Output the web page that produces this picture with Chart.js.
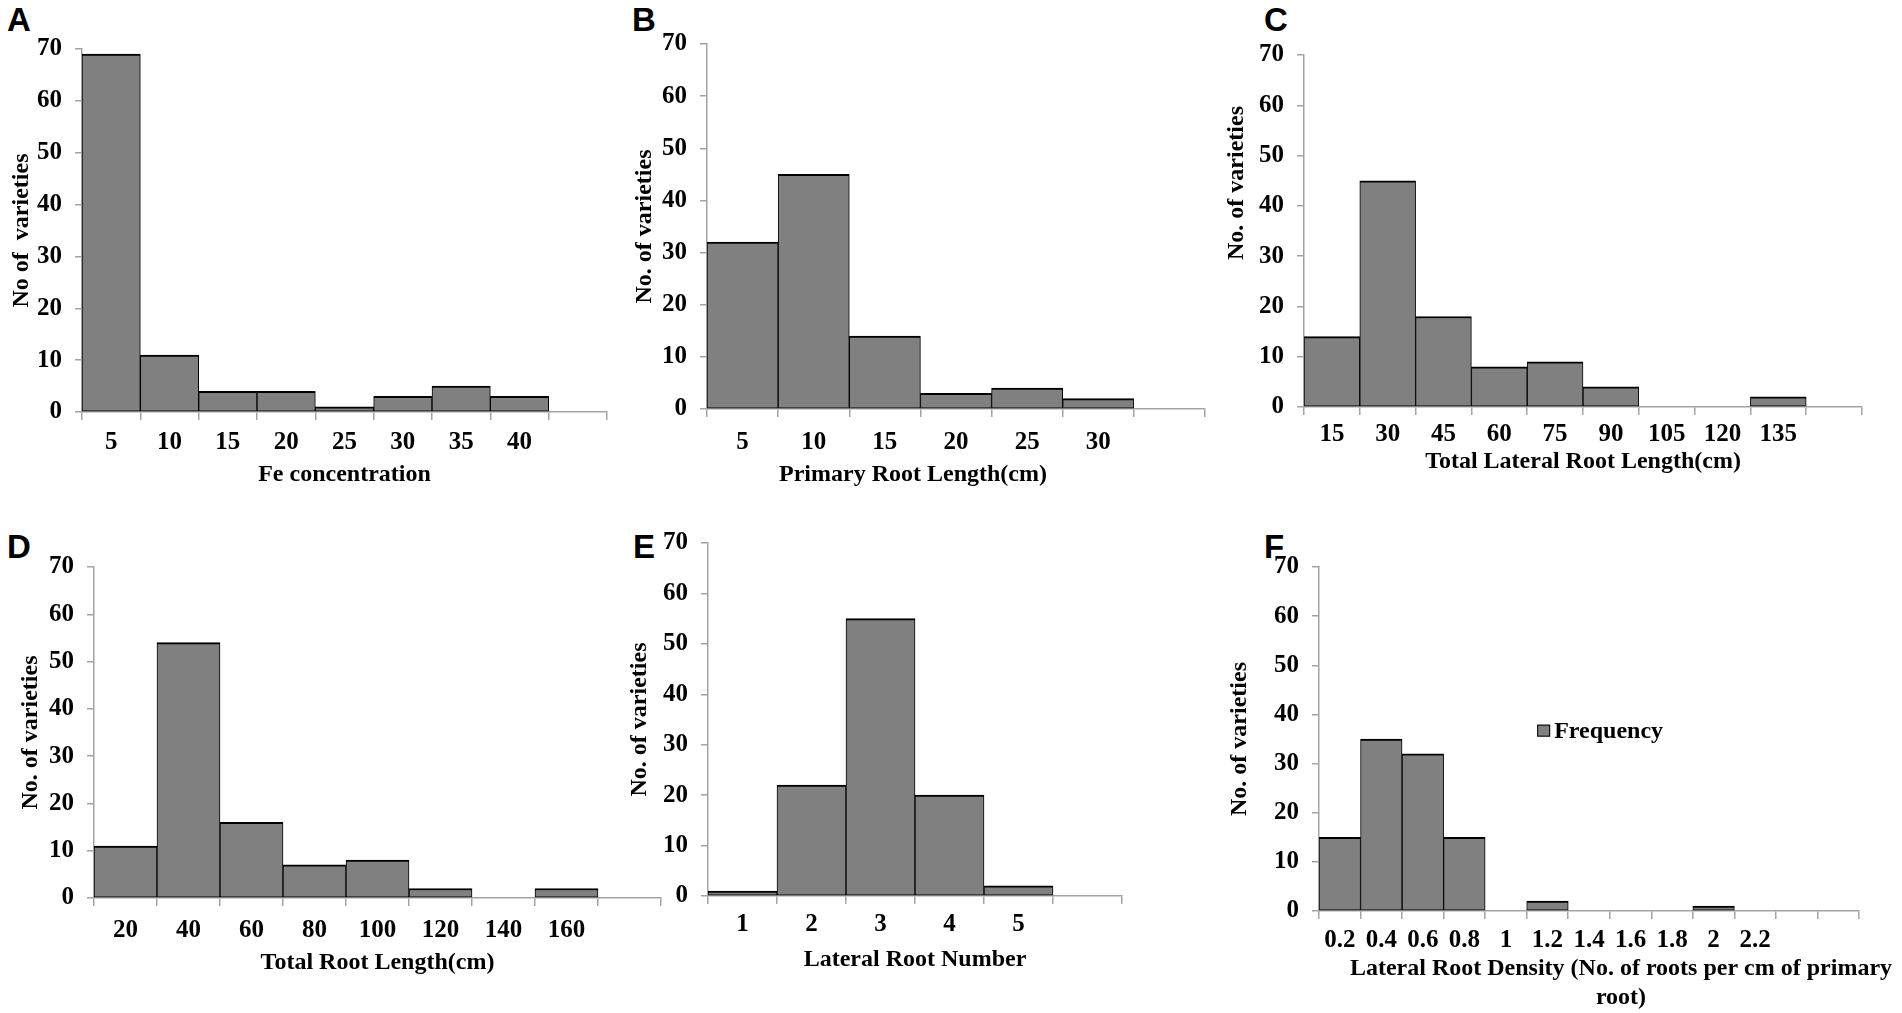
<!DOCTYPE html>
<html>
<head>
<meta charset="utf-8">
<title>Root trait histograms</title>
<script src="https://cdn.jsdelivr.net/npm/chart.js@4.4.1/dist/chart.umd.min.js"></script>
<style>
  body { margin: 0; background: #fff; width: 1902px; height: 1013px; overflow: hidden; position: relative; }
  canvas { position: absolute; }
  .tag { position: absolute; font: bold 33px "Liberation Sans", Arial, sans-serif; line-height: 1; color: #000; }
</style>
</head>
<body>
<div class="tag" style="left:7px;top:3px">A</div>
<div class="tag" style="left:632px;top:3px">B</div>
<div class="tag" style="left:1264px;top:3px">C</div>
<div class="tag" style="left:7px;top:530px">D</div>
<div class="tag" style="left:633px;top:530px">E</div>
<div class="tag" style="left:1264px;top:530px">F</div>

<canvas id="chartA"></canvas>
<canvas id="chartB"></canvas>
<canvas id="chartC"></canvas>
<canvas id="chartD"></canvas>
<canvas id="chartE"></canvas>
<canvas id="chartF"></canvas>

<script>
// A - Fe concentration
const feBins = ['5', '10', '15', '20', '25', '30', '35', '40', ''];
const feCounts = [69, 11, 4, 4, 1, 3, 5, 3, 0];
// B - primary root length
const prlBins = ['5', '10', '15', '20', '25', '30', ''];
const prlCounts = [32, 45, 14, 3, 4, 2, 0];
// C - total lateral root length
const tlrlBins = ['15', '30', '45', '60', '75', '90', '105', '120', '135', ''];
const tlrlCounts = [14, 45, 18, 8, 9, 4, 0, 0, 2, 0];
// D - total root length
const trlBins = ['20', '40', '60', '80', '100', '120', '140', '160', ''];
const trlCounts = [11, 54, 16, 7, 8, 2, 0, 2, 0];
// E - lateral root number
const lrnBins = ['1', '2', '3', '4', '5', ''];
const lrnCounts = [1, 22, 55, 20, 2, 0];
// F - lateral root density
const lrdBins = ['0.2', '0.4', '0.6', '0.8', '1', '1.2', '1.4', '1.6', '1.8', '2', '2.2', '', ''];
const lrdCounts = [15, 35, 32, 15, 0, 2, 0, 0, 0, 1, 0, 0, 0];

const yTicks = [0, 10, 20, 30, 40, 50, 60, 70];

const serif = '"Liberation Serif", "Times New Roman", serif';
const fs = 24;
const tickFs = 25;
const lh = fs * 1.2;
const tickLh = tickFs * 1.2;
const axisGrey = '#a3a3a3';

Chart.defaults.font.family = serif;
Chart.defaults.font.size = fs;
Chart.defaults.font.weight = 'bold';
Chart.defaults.color = '#000';

// legend box drawn inside the plot of panel F
const innerLegend = {
  id: 'innerLegend',
  afterDatasetsDraw(chart, args, opts) {
    if (!opts.show) return;
    const ctx = chart.ctx;
    const area = chart.chartArea;
    const x = area.left + opts.fx * (area.right - area.left);
    const y = chart.scales.y.getPixelForValue(opts.value);
    ctx.save();
    ctx.fillStyle = '#808080';
    ctx.strokeStyle = '#000';
    ctx.lineWidth = 1;
    ctx.fillRect(x, y - 6, 13, 12);
    ctx.strokeRect(x + 0.5, y - 5.5, 12, 11);
    ctx.fillStyle = '#000';
    ctx.font = 'bold ' + fs + 'px ' + serif;
    ctx.textBaseline = 'middle';
    ctx.fillText(chart.data.datasets[0].label, x + 17, y + 1);
    ctx.restore();
  }
};

// x-axis title that is not centred on the plot (as in the original B and F)
const shiftedTitle = {
  id: 'shiftedTitle',
  afterDraw(chart, args, opts) {
    if (!opts.lines) return;
    const ctx = chart.ctx;
    const area = chart.chartArea;
    const cx = (area.left + area.right) / 2 + opts.dx;
    ctx.save();
    ctx.fillStyle = '#000';
    ctx.font = 'bold ' + fs + 'px ' + serif;
    ctx.textAlign = 'center';
    ctx.textBaseline = 'middle';
    opts.lines.forEach((t, i) => ctx.fillText(t, cx, opts.y + i * lh));
    ctx.restore();
  }
};

function panel(id, g, bins, counts, xTitle, yTitle, legend) {
  const el = document.getElementById(id);
  const w = g.x1 - g.x0, h = g.y1 - g.y0;
  el.width = w; el.height = h;
  el.style.left = g.x0 + 'px'; el.style.top = g.y0 + 'px';
  el.style.width = w + 'px'; el.style.height = h + 'px';

  const yWidth = g.axisX - g.x0;
  const xHeight = g.y1 - g.zeroY;
  const lines = Array.isArray(xTitle) ? xTitle : [xTitle];
  const shifted = g.titleDx ? {
    lines: lines,
    dx: g.titleDx,
    y: g.xTitleY - g.y0 - lh * (lines.length - 1)
  } : {};

  return new Chart(el, {
    type: 'bar',
    data: {
      labels: bins,
      datasets: [{
        label: 'Frequency',
        data: counts.map(v => v || null),
        backgroundColor: '#808080',
        borderColor: '#000',
        borderWidth: { top: 2, left: 1, right: 1, bottom: 1 },
        borderSkipped: false,
        categoryPercentage: 1,
        barPercentage: 1
      }]
    },
    plugins: [innerLegend, shiftedTitle],
    options: {
      responsive: false,
      animation: false,
      devicePixelRatio: 1,
      layout: { padding: { left: 0, top: g.topY - g.y0, right: g.x1 - g.rightX, bottom: 0 } },
      plugins: {
        legend: { display: false },
        tooltip: { enabled: false },
        innerLegend: legend || { show: false },
        shiftedTitle: shifted
      },
      scales: {
        x: {
          grid: { display: true, offset: true, drawOnChartArea: false, tickLength: 8, color: axisGrey, lineWidth: 1.5 },
          border: { display: true, color: axisGrey, width: 1.5 },
          ticks: { autoSkip: false, maxRotation: 0, font: { size: tickFs }, padding: g.xLabelY - g.zeroY - 8 - tickLh / 2 },
          title: { display: !g.titleDx, text: xTitle, padding: { top: 0, bottom: g.y1 - g.xTitleY - lh / 2 } },
          afterFit(s) {
            s.height = xHeight;
            s.paddingLeft = 0; s.paddingRight = 0;
          }
        },
        y: {
          min: 0,
          max: 70,
          afterBuildTicks(s) { s.ticks = yTicks.map(v => ({ value: v })); },
          grid: { display: true, drawOnChartArea: false, tickLength: 7, color: axisGrey, lineWidth: 1.5 },
          border: { display: true, color: axisGrey, width: 1.5 },
          ticks: { padding: 13, font: { size: tickFs } },
          title: { display: true, text: yTitle, padding: { top: g.yTitleX - g.x0 - lh / 2, bottom: 0 } },
          afterFit(s) {
            s.width = yWidth;
            s.paddingTop = 0; s.paddingBottom = 0;
          }
        }
      }
    }
  });
}

panel('chartA',
  { x0: 0, y0: 35, x1: 640, y1: 505, axisX: 82, topY: 49, zeroY: 412, rightX: 607, yTitleX: 22, xLabelY: 443, xTitleY: 475 },
  feBins, feCounts, 'Fe concentration', 'No of  varieties');

panel('chartB',
  { x0: 600, y0: 30, x1: 1230, y1: 505, axisX: 707, topY: 44, zeroY: 409, rightX: 1205, yTitleX: 645, xLabelY: 443, xTitleY: 475, titleDx: -43 },
  prlBins, prlCounts, 'Primary Root Length(cm)', 'No. of varieties');

panel('chartC',
  { x0: 1215, y0: 40, x1: 1902, y1: 500, axisX: 1304, topY: 55, zeroY: 407, rightX: 1862, yTitleX: 1237, xLabelY: 435, xTitleY: 462 },
  tlrlBins, tlrlCounts, 'Total Lateral Root Length(cm)', ' '.repeat(16) + 'No. of varieties');

panel('chartD',
  { x0: 0, y0: 540, x1: 700, y1: 1000, axisX: 94, topY: 567, zeroY: 898, rightX: 661, yTitleX: 31, xLabelY: 931, xTitleY: 963 },
  trlBins, trlCounts, 'Total Root Length(cm)', 'No. of varieties');

panel('chartE',
  { x0: 620, y0: 520, x1: 1240, y1: 1000, axisX: 708, topY: 543, zeroY: 896, rightX: 1122, yTitleX: 640, xLabelY: 925, xTitleY: 960 },
  lrnBins, lrnCounts, 'Lateral Root Number', 'No. of varieties');

panel('chartF',
  { x0: 1215, y0: 540, x1: 1902, y1: 1013, axisX: 1319, topY: 567, zeroY: 911, rightX: 1859, yTitleX: 1240, xLabelY: 941, xTitleY: 998, titleDx: 32 },
  lrdBins, lrdCounts, ['Lateral Root Density (No. of roots per cm of primary', 'root)'], 'No. of varieties',
  { show: true, fx: 0.404, value: 36.7 });
</script>
</body>
</html>
